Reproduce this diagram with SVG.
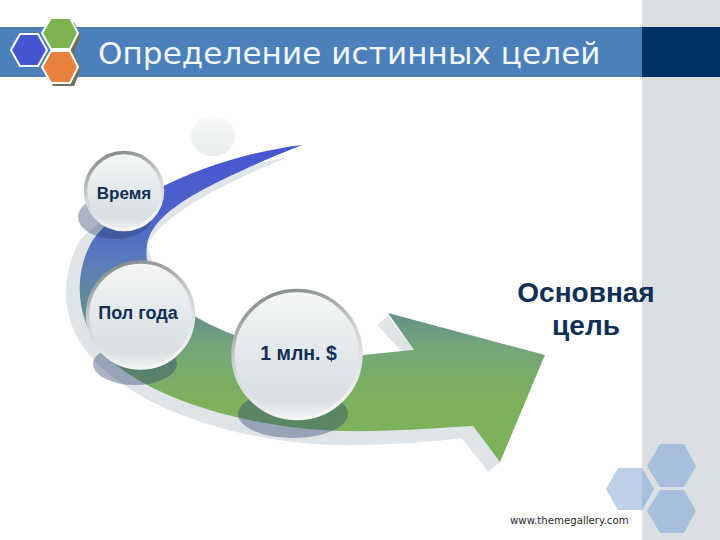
<svg xmlns="http://www.w3.org/2000/svg" width="720" height="540" viewBox="0 0 720 540">
<style>
.lbl{font-family:"Liberation Sans",Arial,sans-serif;font-weight:bold;fill:#0f2f57;text-anchor:middle}
.shd{fill:#2b4470;opacity:.4}
.ball{fill:url(#ball);stroke:url(#rim);stroke-width:3.5}
.hexw{stroke:#fff;stroke-width:2;stroke-linejoin:round}
</style>
<defs>
<linearGradient id="swoosh" gradientUnits="userSpaceOnUse" x1="0" y1="145" x2="0" y2="470">
<stop offset="0" stop-color="#4557d2"/><stop offset=".22" stop-color="#4c62c8"/><stop offset=".36" stop-color="#5a7cbc"/><stop offset=".52" stop-color="#62908a"/><stop offset=".62" stop-color="#75a67a"/><stop offset=".78" stop-color="#7cb25c"/><stop offset="1" stop-color="#7cb25c"/>
</linearGradient>
<linearGradient id="ball" x1="0" y1="0" x2="0" y2="1">
<stop offset="0" stop-color="#f6f7f6"/><stop offset=".5" stop-color="#e3e8ea"/><stop offset=".85" stop-color="#d9dfe3"/><stop offset="1" stop-color="#f1f3f3"/>
</linearGradient>
<linearGradient id="rim" x1="0.3" y1="0" x2="0.6" y2="1">
<stop offset="0" stop-color="#858b8c"/><stop offset=".45" stop-color="#cdd2d4"/><stop offset="1" stop-color="#f6f7f7"/>
</linearGradient>
<linearGradient id="ghostfill" x1="0" y1="0" x2="0" y2="1">
<stop offset="0" stop-color="#fafbfb"/><stop offset=".6" stop-color="#eef1f1"/><stop offset="1" stop-color="#eaeeee"/>
</linearGradient>
</defs>
<rect x="642" y="0" width="78" height="540" fill="#d9dfe3"/>
<rect x="0" y="27" width="642" height="50" fill="#4b80bc"/>
<rect x="642" y="27" width="78" height="50" fill="#003264"/>
<g id="logo">
<polygon class="hexw" points="11,50 20,34 38,34 47,50 38,66 20,66" fill="#4456cf"/>
<polygon points="45,35 53,21 74,21 81,35 74,52 53,52" fill="#6d7258" transform="translate(0,1)"/>
<polygon class="hexw" points="42,33 51,18 70,18 78,33 70,49 51,49" fill="#7cb34e"/>
<polygon points="45,69 53,53 74,53 81,69 74,86 53,86" fill="#6d7258"/>
<polygon class="hexw" points="42,67 51,51 70,51 78,67 70,83 51,83" fill="#e8813c"/>
</g>
<text id="title" x="98" y="64" font-family="'DejaVu Sans',Verdana,sans-serif" font-size="31" fill="#f2f8fc" letter-spacing=".1">Определение истинных целей</text>
<g id="connectors">
<path id="swoosh-shadow" fill="#dfe4e8" d="M288,157C215,172 115,200 80,240C58,280 62,325 92,358C135,405 225,440 330,445C385,446 430,442 462,438L488,472L500,462L473,426L360,420L180,360L147,245C160,222 195,195 288,157ZM377,325L388,316L414,350L403,353Z"/>
<path id="swoosh-arrow" fill="url(#swoosh)" d="M302,145C220,155 120,195 90,245C72,280 78,325 105,355C150,400 250,428 340,431C390,432 435,428 473,426L500,462L545,355L388,313L414,350C390,352 360,356 340,356C280,354 225,335 193,315C160,296 143,270 147,245C152,215 190,190 302,145Z"/>
</g>
<ellipse id="ghost" cx="213" cy="136" rx="22" ry="20" fill="url(#ghostfill)"/>
<g id="node-time">
<ellipse class="shd" cx="115" cy="217" rx="37" ry="22"/>
<circle class="ball" cx="124" cy="191" r="38.5"/>
<text class="lbl" x="124" y="199" font-size="17">Время</text>
</g>
<g id="node-halfyear">
<ellipse class="shd" cx="135" cy="364" rx="42" ry="21"/>
<circle class="ball" cx="140.500" cy="315" r="53"/>
<text class="lbl" x="138" y="319" font-size="18">Пол года</text>
</g>
<g id="node-million">
<ellipse class="shd" cx="293" cy="414" rx="55" ry="24"/>
<circle class="ball" cx="297" cy="354.500" r="64"/>
<text class="lbl" x="298.500" y="360" font-size="19.500">1 млн. $</text>
</g>
<g id="node-goal">
<text class="lbl" x="586" y="302" font-size="28">Основная</text>
<text class="lbl" x="586" y="335" font-size="28">цель</text>
</g>
<g id="corner-hexes">
<polygon points="647,466 660,444 684,444 696,466 684,487 660,487" fill="#a7bfdc"/>
<polygon points="647,511 660,490 684,490 696,511 684,533 660,533" fill="#a7bfdc"/>
<polygon points="606,489 618,468 642,468 654,489 642,510 618,510" fill="#bdd0e7"/>
<polygon points="642,468 654,489 642,510" fill="#a7bfdc"/>
</g>
<text id="url" x="510" y="524" font-family="'DejaVu Sans',Verdana,sans-serif" font-size="10.200" fill="#2a2a2a">www.themegallery.com</text>
</svg>
